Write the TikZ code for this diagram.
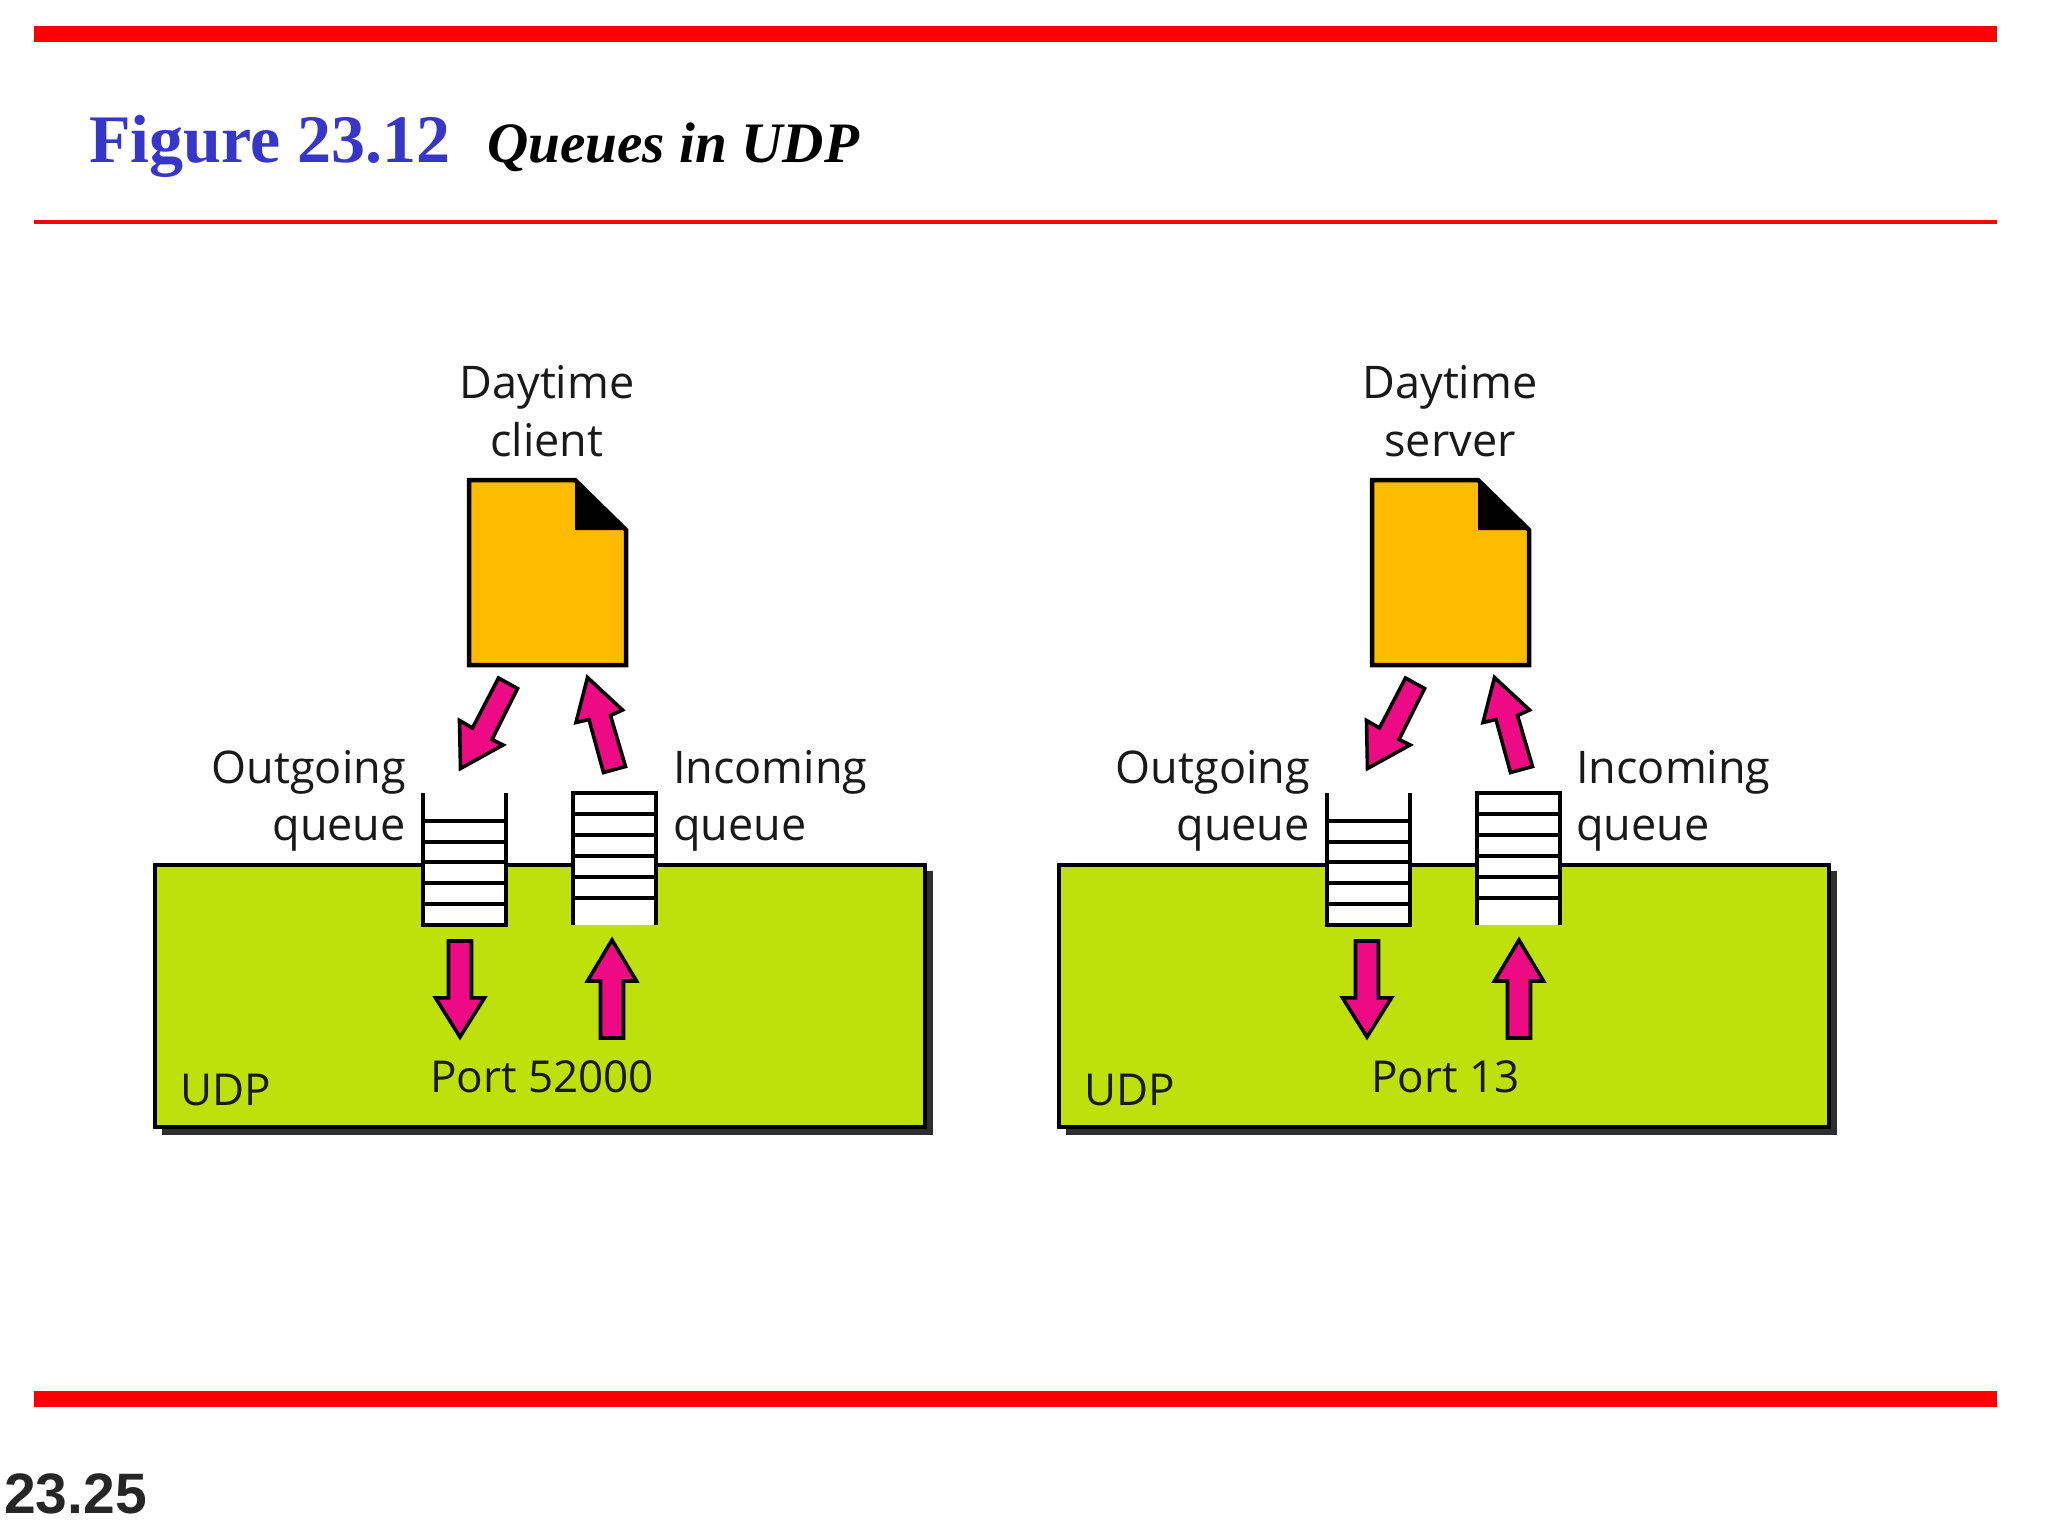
\documentclass[tikz,border=0pt]{standalone}
\usepackage{fontspec}
\setmainfont{Open Sans}
\newfontfamily\serifbold{Liberation Serif}
\newfontfamily\sansbold{Liberation Sans}
\definecolor{barred}{HTML}{FF0000}
\definecolor{titleblue}{HTML}{3636C8}
\definecolor{udpgreen}{HTML}{BEE10E}
\definecolor{docorange}{HTML}{FFBB00}
\definecolor{arrowpink}{HTML}{EE0A84}
\definecolor{shadowgrey}{HTML}{2E2E2E}
\tikzset{
  x=1pt,y=-1pt,
  label/.style={inner sep=0pt,font=\fontsize{45}{45}\selectfont,text=black!90},
  lbl/.style={label,anchor=base west},
  lbr/.style={label,anchor=base east},
  lbc/.style={label,anchor=base},
  lbin/.style={lbl,font=\fontsize{44}{44}\selectfont},
  udpbox/.style={draw=black,line width=4pt,fill=udpgreen},
  docbox/.style={draw=black,line width=4.5pt,fill=docorange},
  bigarrow/.style={draw=black,line width=3.6pt,fill=arrowpink,miter limit=10},
  qline/.style={draw=black,line width=3.8pt},
}
\newcommand{\panel}[3]{%
  % #1 box/queue shift  #2 arrow shift  #3 document shift
  \begin{scope}[xshift=#1pt]
    \fill[shadowgrey] (162,871) rectangle (933,1135);
    \draw[udpbox] (155,864.5) rectangle (924.5,1127);
    % outgoing queue
    \fill[white] (423,793) rectangle (506,925);
    \draw[qline] (423,793) -- (423,925) -- (506,925) -- (506,793);
    \foreach \y in {821,842,862,883,904} \draw[qline] (423,\y) -- (506,\y);
    % incoming queue
    \fill[white] (573,793) rectangle (656,925);
    \draw[qline] (573,925) -- (573,793) -- (656,793) -- (656,925);
    \foreach \y in {814,835,856,877,898} \draw[qline] (573,\y) -- (656,\y);
  \end{scope}
  \begin{scope}[xshift=#3pt]
    \draw[docbox] (469,480) -- (575,480) -- (626,530) -- (626,665) -- (469,665) -- cycle;
    \fill[black] (575,480) -- (626,530) -- (575,530) -- cycle;
  \end{scope}
  \begin{scope}[xshift=#2pt]
    \draw[bigarrow] (498.5,678) -- (517.5,688.5) -- (492,739.5) -- (503,745) -- (460.5,768.5) -- (459.5,720.5) -- (472.5,728) -- cycle;
    \draw[bigarrow] (587.5,677.5) -- (622.5,710) -- (610.5,715.5) -- (625.5,766.5) -- (603.5,772.5) -- (589,719.5) -- (576,722.5) -- cycle;
    \draw[bigarrow] (448.5,941) -- (471.5,941) -- (471.5,997.8) -- (484.5,997.8) -- (460,1037) -- (435.5,997.8) -- (448.5,997.8) -- cycle;
    \draw[bigarrow] (612,940) -- (636.5,981) -- (623.5,981) -- (623.5,1038) -- (600.5,1038) -- (600.5,981) -- (587.5,981) -- cycle;
  \end{scope}
}
\begin{document}
\begin{tikzpicture}
\useasboundingbox (0,0) rectangle (2048,1536);
\fill[white] (0,0) rectangle (2048,1536);
\fill[barred] (34,26) rectangle (1997,42);
\fill[barred] (34,220) rectangle (1997,224);
\fill[barred] (34,1391) rectangle (1997,1407);
\node[anchor=base west,inner sep=0pt,text=titleblue,font=\serifbold\bfseries\fontsize{68}{68}\selectfont] (title) at (89,163) {Figure 23.12};
\node[anchor=base west,inner sep=0pt,text=black,font=\serifbold\bfseries\itshape\fontsize{57.2}{57.2}\selectfont] (subtitle) at (487,163) {Queues in UDP};
\node[anchor=base west,inner sep=0pt,text=black!85,font=\sansbold\bfseries\fontsize{57}{57}\selectfont] (page) at (4,1513) {23.25};
\panel{0}{0}{0}
\panel{904}{907}{903}
\node[lbc] (dc1) at (547,398) {Daytime};
\node[lbc] (dc2) at (547,456) {client};
\node[lbc] (ds1) at (1450,398) {Daytime};
\node[lbc] (ds2) at (1450,456) {server};
\node[lbr] (og1) at (406,783) {Outgoing};
\node[lbr] (og2) at (406,840) {queue};
\node[lbl] (in1) at (673,783) {Incoming};
\node[lbl] (in2) at (673,840) {queue};
\node[lbr] (og3) at (1310,783) {Outgoing};
\node[lbr] (og4) at (1310,840) {queue};
\node[lbl] (in3) at (1576,783) {Incoming};
\node[lbl] (in4) at (1576,840) {queue};
\node[lbin] (u1) at (180,1105) {UDP};
\node[lbin] (u2) at (1084,1105) {UDP};
\node[lbin] (p1) at (430,1092) {Port 52000};
\node[lbin] (p2) at (1371,1092) {Port 13};
\end{tikzpicture}
\end{document}
